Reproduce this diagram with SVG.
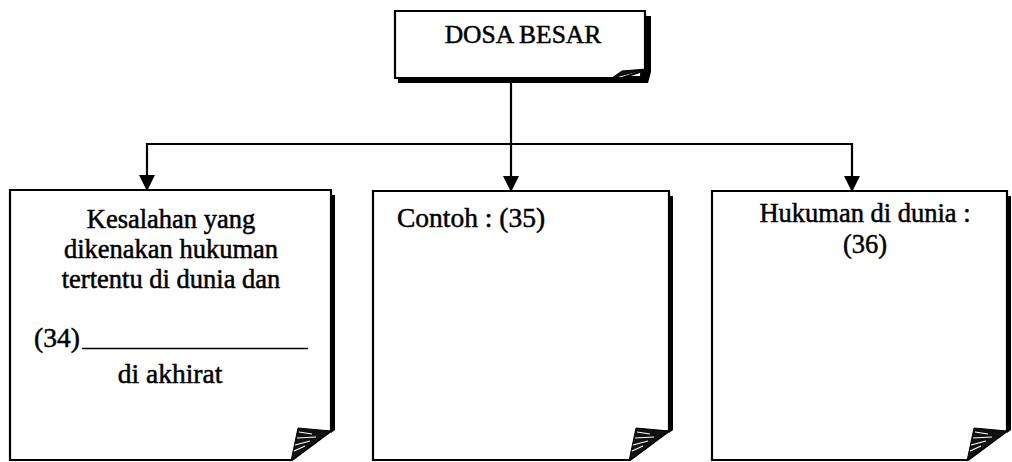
<svg xmlns="http://www.w3.org/2000/svg" width="1012" height="462" viewBox="0 0 1012 462">
<style>
.t{font-family:"Liberation Serif","Times New Roman",serif;font-size:27.5px;fill:#000;stroke:#000;stroke-width:0.5}
.tl{font-size:26.5px}
.box{fill:#fff;stroke:#000;stroke-width:2.2}
.sh{fill:#000}
.flap{fill:#111;stroke:#000;stroke-width:1}
.hatch{stroke:#fff;stroke-width:1.2;fill:none}
.ln{stroke:#000;stroke-width:2.2;fill:none}
</style>
<defs>
<marker id="ah" markerWidth="16" markerHeight="16" refX="8" refY="14" orient="0" markerUnits="userSpaceOnUse">
<path d="M0,0 L16,0 L8,16 Z" fill="#000"/>
</marker>
</defs>
<rect width="1012" height="462" fill="#fff"/>

<g id="connectors">
<path class="ln" d="M511,80 V144"/>
<path class="ln" d="M147,144 H852"/>
<path class="ln" d="M147,143 V189" marker-end="url(#ah)"/>
<path class="ln" d="M511,143 V190" marker-end="url(#ah)"/>
<path class="ln" d="M852,143 V190" marker-end="url(#ah)"/>
</g>

<g id="dosa-besar">
<path class="sh" d="M644,16 H651 V72 L648,83 H398 V76 H640 Z"/>
<path class="box" d="M395,11 H645 V70 L622,78 H395 Z"/>
<path class="flap" d="M612,78 L622,71 L646,69 Z"/>
<text class="t" x="523" y="43" text-anchor="middle" style="font-size:25.5px">DOSA BESAR</text>
</g>

<g id="node-34">
<path class="sh" d="M329,195 H335 V430 L331,433 Z"/>
<path class="box" d="M10,190 H331 V431 L292,460 H10 Z"/>
<path class="flap" d="M331,431 L298,428 L291,461 Z"/>
<path class="hatch" d="M299,432 L312,434 M297,438 L316,437 M295,445 L310,441 M294,451 L305,446"/>
<text class="t tl" x="171" y="228" text-anchor="middle">Kesalahan yang</text>
<text class="t tl" x="171" y="258" text-anchor="middle">dikenakan hukuman</text>
<text class="t tl" x="171" y="288" text-anchor="middle">tertentu di dunia dan</text>
<text class="t" x="34" y="347">(34)</text>
<path d="M82,348.5 H308" stroke="#000" stroke-width="1.5"/>
<text class="t" x="170" y="383" text-anchor="middle">di akhirat</text>
</g>

<g id="node-35">
<path class="sh" d="M667,196 H673 V430 L669,433 Z"/>
<path class="box" d="M373,191 H669 V431 L630,460 H373 Z"/>
<path class="flap" d="M669,431 L636,428 L629,461 Z"/>
<path class="hatch" d="M637,432 L650,434 M635,438 L654,437 M633,445 L648,441 M632,451 L643,446"/>
<text class="t" x="397" y="227">Contoh : (35)</text>
</g>

<g id="node-36">
<path class="sh" d="M1005,196 H1011 V430 L1007,433 Z"/>
<path class="box" d="M712,191 H1007 V431 L968,460 H712 Z"/>
<path class="flap" d="M1007,431 L974,428 L967,461 Z"/>
<path class="hatch" d="M975,432 L988,434 M973,438 L992,437 M971,445 L986,441 M970,451 L981,446"/>
<text class="t tl" x="865" y="222" text-anchor="middle">Hukuman di dunia :</text>
<text class="t tl" x="865" y="253" text-anchor="middle">(36)</text>
</g>
</svg>
